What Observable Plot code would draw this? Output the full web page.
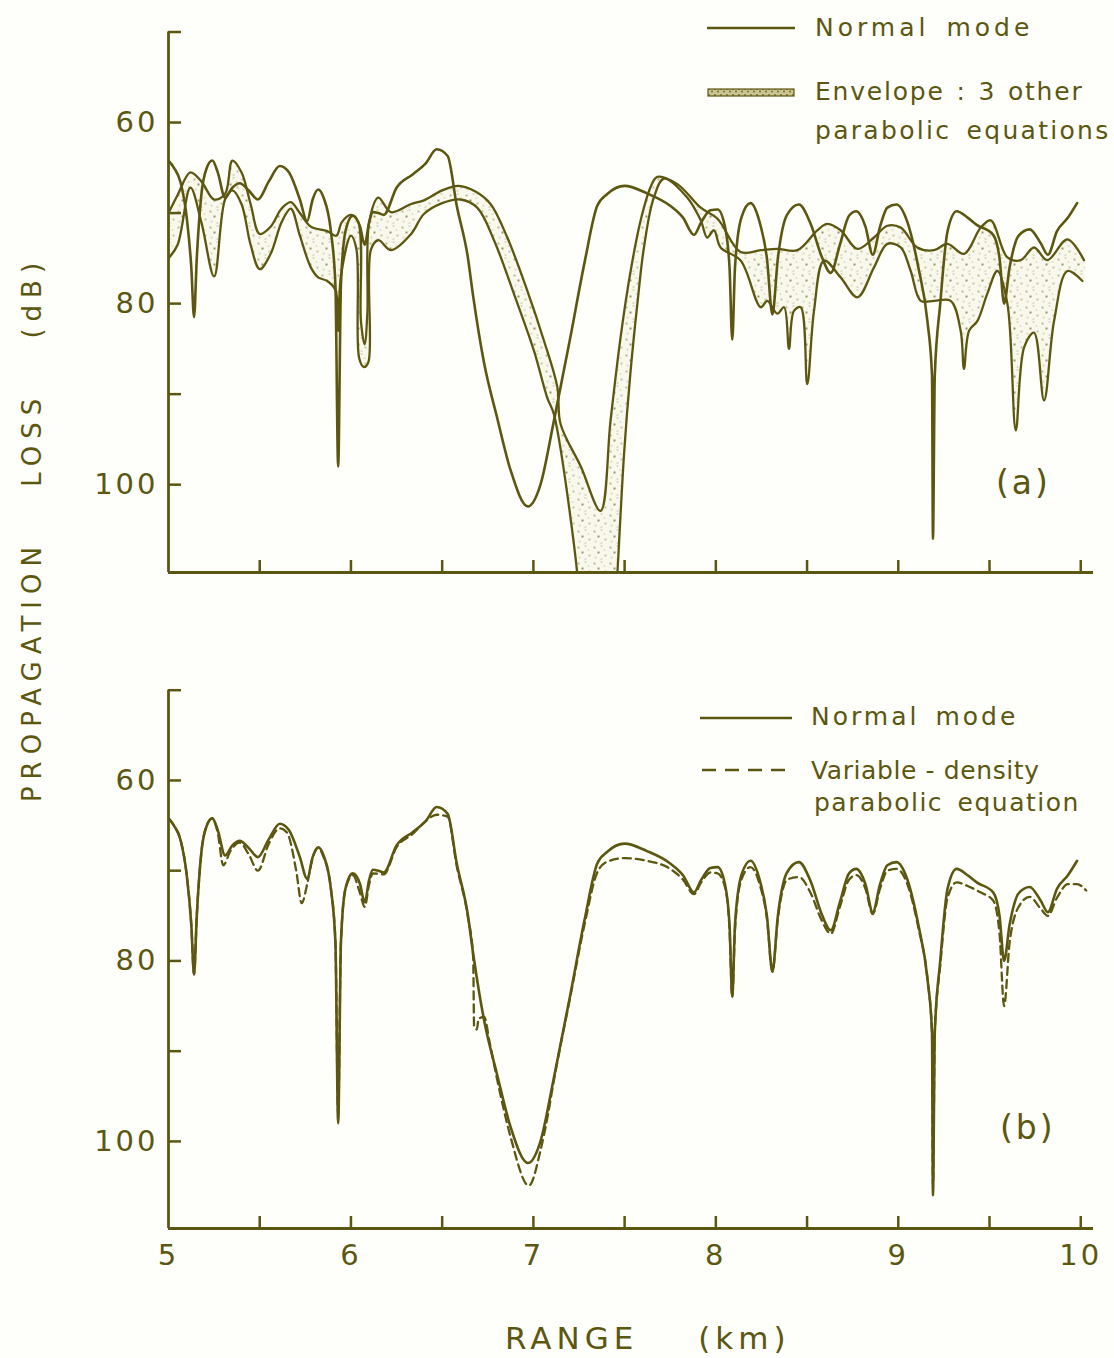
<!DOCTYPE html>
<html>
<head>
<meta charset="utf-8">
<script src="https://cdn.jsdelivr.net/npm/d3@7"></script>
<script src="https://cdn.jsdelivr.net/npm/@observablehq/plot@0.6"></script>
<style>
  html, body { margin: 0; padding: 0; background: #fefefa; }
  #page { position: relative; width: 1114px; height: 1358px; background: #fefefa; overflow: hidden;
          font-family: "DejaVu Sans", sans-serif; color: #5c5710; }
  #page svg.panel { position: absolute; left: 0; }
  #page svg.panel text { letter-spacing: 3px; }
  .abs { position: absolute; white-space: nowrap; line-height: 1; }
  .leg { font-size: 25px; word-spacing: 5px; }
  .tag { font-size: 33px; letter-spacing: 3px; }
</style>
</head>
<body>
<svg width="0" height="0" style="position:absolute">
  <defs>
    <pattern id="stipple" patternUnits="userSpaceOnUse" width="16" height="16">
      <rect width="16" height="16" fill="#f9f8ec"/>
      <circle cx="2" cy="3" r="0.8" fill="#6d6722"/>
      <circle cx="9" cy="1.5" r="0.6" fill="#7c7630"/>
      <circle cx="6" cy="8" r="0.9" fill="#6d6722"/>
      <circle cx="13" cy="11" r="0.7" fill="#6d6722"/>
      <circle cx="3" cy="13" r="0.6" fill="#7c7630"/>
      <circle cx="12" cy="5.5" r="0.5" fill="#8a8444"/>
      <circle cx="9" cy="14.5" r="0.6" fill="#7c7630"/>
    </pattern>
    <pattern id="stippleDense" patternUnits="userSpaceOnUse" width="6" height="6">
      <rect width="6" height="6" fill="#c9c491"/>
      <circle cx="1" cy="1" r="0.9" fill="#6d6722"/>
      <circle cx="4" cy="3.5" r="0.9" fill="#6d6722"/>
    </pattern>
  </defs>
</svg>
<div id="page"></div>
<script>
// ---------- data (range km, propagation loss dB) ----------
const normalMode = [
  [5.00,64.2],[5.03,65.0],[5.066,66.6],[5.10,70.5],[5.125,76],[5.14,81.5],[5.155,75],[5.18,68],
  [5.21,65.0],[5.24,64.2],[5.27,65.5],[5.31,68.3],[5.35,67.2],[5.39,66.7],[5.44,67.5],[5.49,68.5],
  [5.55,66.5],[5.61,64.8],[5.66,65.5],[5.72,68.5],[5.76,70.9],[5.79,68.5],[5.82,67.4],[5.85,68.3],
  [5.89,72],[5.915,78],[5.93,98],[5.945,78],[5.97,72],[6.01,70.3],[6.05,71.5],[6.075,73.5],
  [6.10,71],[6.12,69.9],[6.15,70.0],[6.18,70.2],[6.25,67.2],[6.34,65.7],[6.41,64.5],[6.47,62.95],
  [6.53,63.7],[6.58,69.2],[6.64,74.8],[6.67,79.2],[6.73,86.6],[6.80,92.5],[6.875,98.4],[6.97,102.4],
  [7.04,99.9],[7.11,93.2],[7.20,84.0],[7.28,75.5],[7.35,69.2],[7.405,67.9],[7.50,67.0],[7.62,67.8],
  [7.75,69.2],[7.82,70.5],[7.88,72.4],[7.92,71],[7.97,69.7],[8.01,69.6],[8.05,71.5],[8.075,76],
  [8.09,84],[8.105,76],[8.14,70.5],[8.19,68.9],[8.24,71],[8.28,75],[8.31,81.2],[8.34,75],
  [8.39,70.2],[8.455,69.05],[8.52,71.2],[8.58,74.8],[8.63,76.6],[8.68,73.5],[8.73,70.3],[8.77,69.8],
  [8.82,71.5],[8.86,74.6],[8.90,71.5],[8.94,69.4],[8.99,69.05],[9.05,71],[9.11,76],[9.16,82],
  [9.185,88],[9.19,106],[9.20,88],[9.23,80],[9.27,72],[9.32,69.8],[9.38,70.5],[9.43,71.3],
  [9.52,72.4],[9.555,75],[9.58,80],[9.61,76],[9.66,72.5],[9.72,71.8],[9.78,73.3],[9.82,74.6],
  [9.87,72],[9.93,70.5],[9.98,68.9]
];
const variableDensityPE = [
  [5.00,64.2],[5.03,65.0],[5.066,66.6],[5.10,70.5],[5.125,76],[5.14,81.5],[5.155,75],[5.18,68],
  [5.21,65.0],[5.24,64.2],[5.27,65.8],[5.30,69.4],[5.34,67.8],[5.39,66.9],[5.44,68.2],[5.49,70.0],
  [5.55,67.0],[5.61,65.3],[5.65,65.8],[5.70,70],[5.73,73.6],[5.76,71.5],[5.79,68.6],[5.82,67.5],
  [5.85,68.5],[5.89,72],[5.915,78],[5.93,97],[5.945,78],[5.97,72],[6.01,70.5],[6.05,72.5],
  [6.075,74],[6.10,71.5],[6.12,70.3],[6.18,70.4],[6.25,67.4],[6.34,65.9],[6.41,64.5],[6.47,63.8],
  [6.53,64.0],[6.58,69.5],[6.64,75.0],[6.67,79.6],[6.675,87.3],[6.69,87.6],[6.70,86.4],[6.73,86.2],
  [6.76,89],[6.80,93],[6.875,99.5],[6.975,104.9],[7.04,100.9],[7.08,97],[7.11,93.5],[7.20,84.2],
  [7.28,76],[7.35,70.2],[7.405,69.0],[7.50,68.6],[7.62,68.9],[7.75,69.8],[7.82,71],[7.88,72.6],
  [7.92,71.3],[7.97,70.2],[8.01,70.3],[8.05,71.8],[8.075,76.5],[8.09,84],[8.105,76.5],[8.14,71],
  [8.19,69.6],[8.24,71.5],[8.28,75.3],[8.31,81.2],[8.34,75.3],[8.39,71],[8.455,70.7],[8.52,72.5],
  [8.58,75.5],[8.63,77],[8.68,74],[8.73,71],[8.77,70.5],[8.82,72],[8.86,74.8],[8.90,72],
  [8.94,70],[8.99,69.8],[9.05,71.5],[9.11,76.3],[9.16,82],[9.185,88],[9.19,105],[9.20,88],
  [9.23,80.5],[9.27,73],[9.32,71.3],[9.38,71.7],[9.45,72.4],[9.52,73.3],[9.555,77],[9.58,85],
  [9.61,78],[9.66,74],[9.72,72.9],[9.78,74.2],[9.82,75],[9.87,73],[9.93,71.5],[9.98,71.5],[10.03,72.2]
];
// envelope of the three other parabolic equations: upper (least loss) and lower (most loss) edges
const envelopeUpper = [
  [5.00,70.0],[5.05,68.0],[5.12,65.5],[5.18,66.5],[5.25,68.5],[5.31,67.9],[5.35,64.2],[5.40,65.5],
  [5.45,69.0],[5.50,72.3],[5.56,71.5],[5.62,69.5],[5.67,68.8],[5.72,70.0],[5.78,71.5],[5.87,72.0],
  [5.92,72.5],[5.95,71.0],[6.00,70.2],[6.04,71],[6.055,82],[6.075,84.5],[6.09,81],[6.10,71],
  [6.15,68.3],[6.22,69.9],[6.33,69.0],[6.40,68.6],[6.50,67.5],[6.59,67.0],[6.68,67.6],[6.765,69.0],
  [6.857,72.7],[6.967,78.6],[7.058,84.1],[7.131,89.2],[7.149,93.3],[7.26,98],[7.368,102.9],[7.423,92.9],
  [7.478,83.7],[7.533,76.4],[7.588,70.8],[7.643,67.1],[7.679,66.0],[7.789,66.8],[7.917,69.4],[8.008,70.6],
  [8.136,74.3],[8.246,74.1],[8.337,73.96],[8.447,74.1],[8.556,71.9],[8.611,71.2],[8.684,71.9],[8.776,73.96],
  [8.867,72.7],[8.940,71.4],[9.013,71.6],[9.104,73.8],[9.196,74.1],[9.269,73.4],[9.36,74.5],[9.452,71.6],
  [9.507,70.8],[9.598,74.9],[9.671,75.2],[9.744,73.8],[9.817,75.2],[9.927,72.9],[10.018,75.2]
];
const envelopeLower = [
  [5.00,75.0],[5.05,73.5],[5.12,67.2],[5.18,71.0],[5.25,77.0],[5.31,68.5],[5.35,67.5],[5.40,69.0],
  [5.45,73.5],[5.50,76.2],[5.56,74.5],[5.62,71.0],[5.67,69.5],[5.72,72.5],[5.78,76.0],[5.82,77.1],
  [5.87,77.5],[5.915,78.5],[5.93,83],[5.945,77],[6.00,72.5],[6.03,74],[6.045,86],[6.07,87],
  [6.095,86.5],[6.11,74],[6.15,73],[6.22,74.1],[6.33,72.3],[6.40,70.1],[6.50,68.9],[6.60,68.5],
  [6.692,69.4],[6.784,73.0],[6.893,78.9],[7.003,85.2],[7.076,90.4],[7.112,92.2],[7.241,109.9],[7.25,113],
  [7.45,113],[7.46,109.9],[7.497,96.6],[7.533,87.4],[7.57,80.0],[7.606,73.8],[7.66,68.3],[7.716,66.2],
  [7.844,68.3],[7.917,70.8],[7.953,72.7],[7.99,71.9],[8.026,73.8],[8.136,75.25],[8.246,80.4],[8.282,79.7],
  [8.337,81.1],[8.374,80.4],[8.401,85.0],[8.428,80.8],[8.465,80.4],[8.501,88.9],[8.538,80.8],[8.593,75.25],
  [8.684,77.1],[8.776,79.3],[8.867,76.0],[8.940,73.4],[9.013,73.8],[9.068,76.4],[9.123,79.7],[9.196,79.7],
  [9.287,79.7],[9.342,83.0],[9.36,87.2],[9.388,83.0],[9.434,81.9],[9.488,78.9],[9.543,76.4],[9.598,80.0],
  [9.644,94.0],[9.69,84.8],[9.744,83.2],[9.799,90.7],[9.854,81.9],[9.927,76.4],[10.009,77.5]
];
const xTicks = [5.5,6,6.5,7,7.5,8,8.5,9,9.5,10];
const xLabels = [5,6,7,8,9,10];
const yTicks = [50,60,70,80,90,100];
const yLabels = [60,80,100];
const legendA = ["Normal mode", "Envelope : 3 other", "parabolic equations"];
const legendB = ["Normal mode", "Variable - density", "parabolic equation"];

// ---------- drawing ----------
const ink = "#5c5710";
const font = "DejaVu Sans, sans-serif";
const page = document.getElementById("page");
const X = d => d[0], Y = d => d[1];
const envelopePolygon = envelopeUpper.concat(envelopeLower.slice().reverse());

function panel({height, marginTop, marginBottom, yMax, top, marks, labelsX}) {
  const svg = Plot.plot({
    width: 1114, height,
    marginLeft: 168, marginRight: 21, marginTop, marginBottom,
    x: {domain: [5, 10.07], axis: null},
    y: {domain: [50, yMax], reverse: true, axis: null},
    style: {background: "transparent", color: ink, fontFamily: font, overflow: "visible"},
    marks: [
      ...marks,
      Plot.ruleX([5], {stroke: ink, strokeWidth: 2.8}),
      Plot.ruleY([yMax], {stroke: ink, strokeWidth: 2.8}),
      Plot.axisY(yTicks, {tickSize: 13, dx: 13, fill: "none", stroke: ink, strokeWidth: 2.5, label: null}),
      Plot.axisY(yLabels, {tickSize: 0, tickPadding: 10, fontSize: 29, fill: ink, label: null}),
      Plot.axisX(xTicks, {tickSize: 12, dy: -12, fill: "none", stroke: ink, strokeWidth: 2.5, label: null}),
      ...(labelsX ? [Plot.axisX(xLabels, {tickSize: 0, tickPadding: 16, fontSize: 29, fill: ink, label: null,
                                           tickFormat: d => `${d}`})] : [])
    ]
  });
  svg.classList.add("panel");
  svg.style.top = top + "px";
  page.appendChild(svg);
}

panel({
  height: 590, marginTop: 31.5, marginBottom: 18, yMax: 109.7, top: 0, labelsX: false,
  marks: [
    Plot.line(envelopePolygon, {x: X, y: Y, fill: "url(#stipple)", stroke: "none", curve: "catmull-rom", clip: true}),
    Plot.line(envelopeUpper, {x: X, y: Y, stroke: ink, strokeWidth: 2.3, curve: "catmull-rom", clip: true}),
    Plot.line(envelopeLower, {x: X, y: Y, stroke: ink, strokeWidth: 2.3, curve: "catmull-rom", clip: true}),
    Plot.line(normalMode, {x: X, y: Y, stroke: ink, strokeWidth: 2.6, curve: "monotone-x", clip: true})
  ]
});

panel({
  height: 698, marginTop: 89.7, marginBottom: 70, yMax: 109.65, top: 600, labelsX: true,
  marks: [
    Plot.line(variableDensityPE, {x: X, y: Y, stroke: ink, strokeWidth: 2.3, strokeDasharray: "8,5", curve: "monotone-x", clip: true}),
    Plot.line(normalMode, {x: X, y: Y, stroke: ink, strokeWidth: 2.6, curve: "monotone-x", clip: true})
  ]
});

// ---------- text & legends ----------
function addText(txt, cls, left, top, extra = "") {
  const d = document.createElement("div");
  d.className = "abs " + cls;
  d.textContent = txt;
  d.style.cssText += `left:${left}px;top:${top}px;${extra}`;
  page.appendChild(d);
  return d;
}
function addSample(left, top, w, h, inner) {
  const s = document.createElementNS("http://www.w3.org/2000/svg", "svg");
  s.setAttribute("width", w); s.setAttribute("height", h);
  s.style.cssText = `position:absolute;left:${left}px;top:${top}px;overflow:visible`;
  s.innerHTML = inner;
  page.appendChild(s);
}
// legend (a)
addSample(707, 22, 90, 12, `<line x1="0" x2="88" y1="6" y2="6" stroke="${ink}" stroke-width="2.5"/>`);
addText(legendA[0], "leg", 815, 15, "letter-spacing:4px;");
addSample(708, 88, 88, 10, `<rect x="0" y="1" width="86" height="7" fill="url(#stippleDense)" stroke="${ink}" stroke-width="1.2"/>`);
addText(legendA[1], "leg", 815, 79, "letter-spacing:1.8px;word-spacing:2px;");
addText(legendA[2], "leg", 815, 118, "letter-spacing:2.3px;");
// legend (b)
addSample(700, 712, 95, 12, `<line x1="0" x2="92" y1="6" y2="6" stroke="${ink}" stroke-width="2.5"/>`);
addText(legendB[0], "leg", 811, 704, "letter-spacing:3px;");
addSample(700, 764, 95, 12, `<line x1="2" x2="92" y1="6" y2="6" stroke="${ink}" stroke-width="2.5" stroke-dasharray="14,9"/>`);
addText(legendB[1], "leg", 811, 758, "letter-spacing:0.6px;word-spacing:0;");
addText(legendB[2], "leg", 814, 790, "letter-spacing:1.5px;");
// panel tags
addText("(a)", "tag", 996, 466);
addText("(b)", "tag", 1000, 1111);
// axis titles
addText("PROPAGATION LOSS (dB)", "", 32, 529,
  "font-size:26px;letter-spacing:7px;word-spacing:38px;transform:translate(-50%,-50%) rotate(-90deg);");
addText("RANGE (km)", "", 505, 1323,
  "font-size:31px;letter-spacing:5px;word-spacing:45px;");
</script>
</body>
</html>
